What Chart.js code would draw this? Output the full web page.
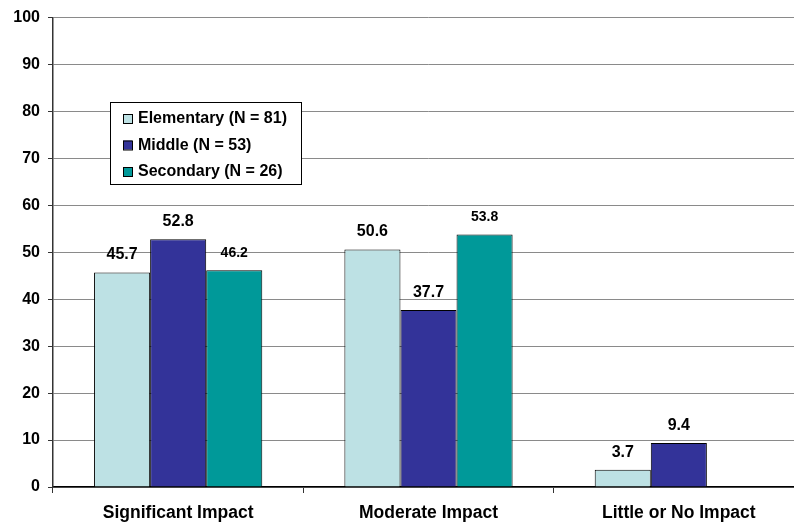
<!DOCTYPE html>
<html>
<head>
<meta charset="utf-8">
<script src="https://cdn.jsdelivr.net/npm/chart.js@4"></script>
<style>
  html, body { margin: 0; padding: 0; background: #fff; overflow: hidden; }
  #wrap { position: relative; width: 804px; height: 527px; }
</style>
</head>
<body>
<div id="wrap"><canvas id="impactChart"></canvas></div>
<script>
const categories = ['Significant Impact', 'Moderate Impact', 'Little or No Impact'];
const seriesNames = ['Elementary (N = 81)', 'Middle (N = 53)', 'Secondary (N = 26)'];
const elementary = [45.7, 50.6, 3.7];
const middle = [52.8, 37.7, 9.4];
const secondary = [46.2, 53.8, null];
const yTicks = [0, 10, 20, 30, 40, 50, 60, 70, 80, 90, 100];

const colors = ['#BDE1E4', '#333399', '#009999'];
// label sizes differ a bit in the original
const labelSizes = [[16, 16, 16], [16, 16, 16], [14, 14, 14]];
const FONT = '"Liberation Sans", Arial, sans-serif';

const ctx = document.getElementById('impactChart').getContext('2d');

// value labels above bars
const barLabels = {
  id: 'barLabels',
  afterDatasetsDraw(chart) {
    const c = chart.ctx;
    c.save();
    c.fillStyle = '#000';
    c.textAlign = 'center';
    c.textBaseline = 'alphabetic';
    chart.data.datasets.forEach((ds, i) => {
      chart.getDatasetMeta(i).data.forEach((bar, j) => {
        const v = ds.data[j];
        if (v == null) return;
        c.font = `bold ${labelSizes[i][j]}px ${FONT}`;
        c.fillText(v.toFixed(1), bar.x, bar.y - 13);
      });
    });
    c.restore();
  }
};

// boxed legend inside the plot
const boxLegend = {
  id: 'boxLegend',
  afterDraw(chart) {
    const c = chart.ctx;
    const x = 110, y = 102, w = 191, h = 82;
    c.save();
    c.fillStyle = '#fff';
    c.fillRect(x, y, w, h);
    c.strokeStyle = '#000';
    c.lineWidth = 1;
    c.strokeRect(x + 0.5, y + 0.5, w, h);
    c.font = `bold 16px ${FONT}`;
    c.textBaseline = 'middle';
    seriesNames.forEach((name, i) => {
      const cy = y + 16 + i * 26.5;
      c.fillStyle = colors[i];
      c.fillRect(x + 13, cy - 4, 9, 9);
      c.strokeStyle = '#000';
      c.strokeRect(x + 13.5, cy - 3.5, 9, 9);
      c.fillStyle = '#000';
      c.fillText(name, x + 28, cy + 1);
    });
    c.restore();
  }
};

new Chart(ctx, {
  type: 'bar',
  data: {
    labels: categories,
    datasets: [
      { label: seriesNames[0], data: elementary, backgroundColor: colors[0] },
      { label: seriesNames[1], data: middle, backgroundColor: colors[1] },
      { label: seriesNames[2], data: secondary, backgroundColor: colors[2] }
    ].map(d => Object.assign(d, { borderColor: '#000', borderWidth: 1, barPercentage: 1, categoryPercentage: 0.672 }))
  },
  options: {
    responsive: true,
    maintainAspectRatio: false,
    animation: false,
    layout: { padding: { top: 17, right: 0, left: 0, bottom: 0 } },
    plugins: {
      legend: { display: false },
      tooltip: { enabled: false }
    },
    scales: {
      x: {
        offset: true,
        afterFit: s => { s.height = 40; },
        grid: { offset: true, drawOnChartArea: false, tickLength: 6, color: '#333' },
        border: { color: '#000', width: 1.5 },
        ticks: {
          color: '#000',
          padding: 10,
          font: { family: FONT, size: 17.5, weight: 'bold' }
        }
      },
      y: {
        min: 0,
        max: 100,
        afterFit: s => { s.width = 53; },
        afterBuildTicks: s => { s.ticks = yTicks.map(v => ({ value: v })); },
        grid: { color: '#8a8a8a', tickColor: '#333', tickLength: 5 },
        border: { color: '#333', width: 1.5 },
        ticks: {
          color: '#000',
          padding: 8,
          font: { family: FONT, size: 16, weight: 'bold' }
        }
      }
    }
  },
  plugins: [barLabels, boxLegend]
});
</script>
</body>
</html>
